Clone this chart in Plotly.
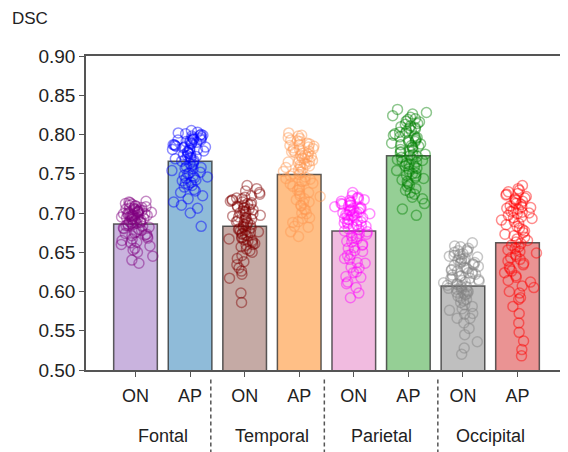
import numpy as np
import plotly.graph_objects as go

groups = ["Fontal", "Temporal", "Parietal", "Occipital"]
methods = ["ON", "AP"]
bar_means = [0.686, 0.766, 0.683, 0.749, 0.677, 0.773, 0.607, 0.662]

fontal_on = [0.712,0.708,0.705,0.701,0.698,0.703,0.709,0.715,0.706,0.700,
0.697,0.702,0.694,0.699,0.704,0.710,0.713,0.707,0.696,0.693,
0.701,0.698,0.695,0.703,0.690,0.692,0.688,0.699,0.705,0.711,
0.694,0.689,0.686,0.700,0.697,0.684,0.691,0.682,0.679,0.695,
0.687,0.693,0.676,0.681,0.685,0.673,0.670,0.689,0.678,0.668,
0.683,0.675,0.665,0.672,0.660,0.687,0.680,0.662,0.655,0.671,
0.650,0.667,0.645,0.658,0.640,0.636,0.653,0.663,0.674,0.696,
0.702,0.706,0.699,0.692,0.688,0.709,0.714,0.704,0.697,0.684]
fontal_ap = [0.805,0.801,0.798,0.795,0.792,0.799,0.803,0.789,0.786,0.794,
0.790,0.797,0.783,0.788,0.781,0.793,0.800,0.785,0.779,0.776,
0.791,0.787,0.784,0.778,0.774,0.782,0.796,0.770,0.773,0.768,
0.780,0.765,0.771,0.762,0.775,0.759,0.767,0.756,0.763,0.752,
0.760,0.748,0.769,0.745,0.754,0.741,0.757,0.738,0.750,0.735,
0.744,0.730,0.747,0.726,0.739,0.722,0.733,0.718,0.728,0.714,
0.736,0.710,0.742,0.706,0.751,0.700,0.683,0.777,0.787,0.794,
0.799,0.784,0.772,0.766,0.790,0.781,0.758,0.746,0.802,0.793]
temporal_on = [0.735,0.731,0.726,0.722,0.719,0.716,0.713,0.728,0.710,0.707,
0.715,0.705,0.712,0.702,0.718,0.699,0.708,0.696,0.704,0.693,
0.711,0.690,0.701,0.687,0.697,0.684,0.706,0.681,0.694,0.678,
0.700,0.675,0.689,0.672,0.685,0.669,0.692,0.666,0.680,0.663,
0.676,0.660,0.688,0.657,0.671,0.654,0.683,0.650,0.667,0.646,
0.679,0.642,0.664,0.638,0.674,0.634,0.659,0.630,0.668,0.626,
0.652,0.622,0.661,0.617,0.598,0.586,0.709,0.714,0.703,0.698,
0.720,0.695,0.691,0.717,0.686,0.677,0.724,0.682,0.673,0.665]
temporal_ap = [0.802,0.798,0.795,0.791,0.799,0.788,0.785,0.793,0.782,0.789,
0.779,0.786,0.776,0.783,0.773,0.780,0.770,0.777,0.767,0.774,
0.764,0.771,0.761,0.768,0.758,0.765,0.755,0.762,0.752,0.759,
0.749,0.756,0.746,0.753,0.743,0.750,0.740,0.747,0.737,0.744,
0.733,0.741,0.729,0.738,0.725,0.734,0.721,0.730,0.717,0.726,
0.713,0.722,0.709,0.718,0.704,0.714,0.699,0.710,0.693,0.705,
0.688,0.700,0.682,0.694,0.676,0.689,0.670,0.683,0.787,0.792,
0.784,0.778,0.772,0.766,0.760,0.796,0.781,0.775,0.769,0.763]
parietal_on = [0.726,0.722,0.718,0.715,0.712,0.720,0.709,0.716,0.706,0.713,
0.703,0.710,0.700,0.707,0.697,0.704,0.694,0.701,0.691,0.698,
0.688,0.695,0.685,0.692,0.682,0.689,0.679,0.686,0.676,0.683,
0.673,0.680,0.670,0.677,0.667,0.674,0.663,0.671,0.659,0.668,
0.655,0.664,0.651,0.660,0.646,0.656,0.641,0.652,0.636,0.647,
0.630,0.642,0.624,0.637,0.618,0.631,0.612,0.625,0.605,0.619,
0.598,0.610,0.592,0.708,0.702,0.711,0.699,0.705,0.696,0.714,
0.693,0.717,0.690,0.703,0.687,0.700,0.684,0.697,0.719,0.706]
parietal_ap = [0.832,0.828,0.824,0.820,0.826,0.817,0.822,0.814,0.819,0.811,
0.816,0.808,0.813,0.805,0.810,0.802,0.807,0.799,0.804,0.796,
0.801,0.793,0.798,0.790,0.795,0.787,0.792,0.784,0.789,0.781,
0.786,0.778,0.783,0.775,0.780,0.772,0.777,0.769,0.774,0.766,
0.771,0.763,0.768,0.760,0.765,0.757,0.762,0.754,0.759,0.751,
0.756,0.748,0.753,0.745,0.750,0.742,0.747,0.738,0.744,0.734,
0.740,0.729,0.736,0.724,0.731,0.718,0.726,0.712,0.720,0.705,
0.697,0.791,0.785,0.779,0.797,0.773,0.803,0.767,0.809,0.788]
occipital_on = [0.662,0.658,0.655,0.651,0.657,0.648,0.653,0.645,0.650,0.642,
0.647,0.639,0.644,0.636,0.641,0.633,0.638,0.630,0.635,0.627,
0.632,0.624,0.629,0.621,0.626,0.618,0.623,0.615,0.620,0.612,
0.617,0.609,0.614,0.606,0.611,0.603,0.608,0.600,0.605,0.597,
0.602,0.594,0.599,0.590,0.596,0.586,0.592,0.581,0.588,0.576,
0.583,0.571,0.578,0.566,0.572,0.560,0.566,0.553,0.545,0.536,
0.528,0.520,0.625,0.619,0.631,0.613,0.637,0.628,0.622,0.616,
0.634,0.640,0.610,0.643,0.604,0.646,0.598,0.652,0.607,0.601]
occipital_ap = [0.735,0.731,0.727,0.723,0.729,0.719,0.725,0.715,0.721,0.711,
0.717,0.707,0.713,0.703,0.709,0.699,0.705,0.695,0.701,0.691,
0.697,0.687,0.693,0.683,0.689,0.679,0.685,0.675,0.681,0.671,
0.677,0.667,0.673,0.663,0.669,0.659,0.665,0.655,0.661,0.651,
0.657,0.647,0.653,0.643,0.649,0.639,0.645,0.634,0.641,0.629,
0.636,0.624,0.631,0.618,0.626,0.612,0.620,0.605,0.614,0.598,
0.607,0.590,0.600,0.581,0.592,0.572,0.560,0.548,0.537,0.526,
0.518,0.712,0.706,0.718,0.700,0.724,0.694,0.716,0.708,0.702]

point_sets = [fontal_on, fontal_ap, temporal_on, temporal_ap,
              parietal_on, parietal_ap, occipital_on, occipital_ap]

bar_colors = ["rgba(148,103,189,0.5)", "rgba(31,119,180,0.5)",
              "rgba(140,86,75,0.5)", "rgba(255,127,14,0.5)",
              "rgba(227,119,194,0.5)", "rgba(44,160,44,0.5)",
              "rgba(127,127,127,0.5)", "rgba(214,39,40,0.5)"]
point_colors = ["rgba(128,0,128,0.45)", "rgba(0,0,255,0.45)",
                "rgba(128,0,0,0.45)", "rgba(255,150,80,0.45)",
                "rgba(255,0,255,0.45)", "rgba(0,128,0,0.45)",
                "rgba(128,128,128,0.45)", "rgba(255,0,0,0.45)"]

xpos = list(range(len(bar_means)))
tick_text = methods * len(groups)

fig = go.Figure()
fig.add_trace(go.Bar(x=xpos, y=bar_means, width=0.8, base=0,
                     marker=dict(color=bar_colors,
                                 line=dict(color="rgba(40,40,40,0.75)", width=1.5)),
                     showlegend=False))


def hash01(a):
    # deterministic scatter offsets for horizontal jitter (layout only)
    v = np.sin(a * 12.9898 + 78.233) * 43758.5453
    return v - np.floor(v)


for k, vals in enumerate(point_sets):
    n = len(vals)
    idx = np.arange(n, dtype=float) + 100.0 * k
    s = hash01(idx) + hash01(idx + 0.5) + hash01(idx + 0.25)
    jit = 0.27 * (s - 1.5)
    fig.add_trace(go.Scatter(x=k + jit, y=vals, mode="markers",
                             marker=dict(symbol="circle-open", size=10,
                                         color=point_colors[k],
                                         line=dict(width=1.5, color=point_colors[k])),
                             showlegend=False, hoverinfo="skip"))

# group labels
for g, name in enumerate(groups):
    fig.add_annotation(x=2 * g + 0.5, y=-0.21, xref="x", yref="paper",
                       text=name, showarrow=False,
                       font=dict(size=18, color="#222"), yanchor="middle")

# dashed separators
for xs in [1.38, 3.46, 5.54]:
    fig.add_shape(type="line", x0=xs, x1=xs, y0=-0.03, y1=-0.27,
                  xref="x", yref="paper",
                  line=dict(color="#555", width=1.5, dash="4px,3px"))

fig.add_annotation(x=-0.158, y=1.0, xref="paper", yref="paper", xanchor="left",
                   yanchor="middle", yshift=38, text="DSC", showarrow=False,
                   font=dict(size=17, color="#222"))

axis_col = "#555"
fig.update_layout(
    width=568, height=452,
    margin=dict(l=78, r=8, t=48, b=90, autoexpand=False),
    plot_bgcolor="white", paper_bgcolor="white",
    font=dict(family="Liberation Sans, Arial, sans-serif", color="#222"),
    bargap=0.2,
    xaxis=dict(range=[-0.907, 7.925], tickmode="array", tickvals=xpos,
               ticktext=tick_text, showline=True, linecolor=axis_col, linewidth=1.5,
               mirror=True, ticks="outside", ticklen=5, tickcolor=axis_col,
               tickwidth=1.2, tickfont=dict(size=18, color="#222"),
               ticklabelstandoff=4,
               showgrid=False, zeroline=False, automargin=False),
    yaxis=dict(range=[0.5, 0.9], tickmode="array",
               tickvals=[0.50, 0.55, 0.60, 0.65, 0.70, 0.75, 0.80, 0.85, 0.90],
               ticktext=["0.50", "0.55", "0.60", "0.65", "0.70", "0.75", "0.80", "0.85", "0.90"],
               showline=True, linecolor=axis_col, linewidth=1.5, mirror=False,
               ticks="outside", ticklen=5, tickcolor=axis_col, tickwidth=1.2,
               tickfont=dict(size=19, color="#222"),
               showgrid=False, zeroline=False, automargin=False),
)

fig.write_html("out.html")
